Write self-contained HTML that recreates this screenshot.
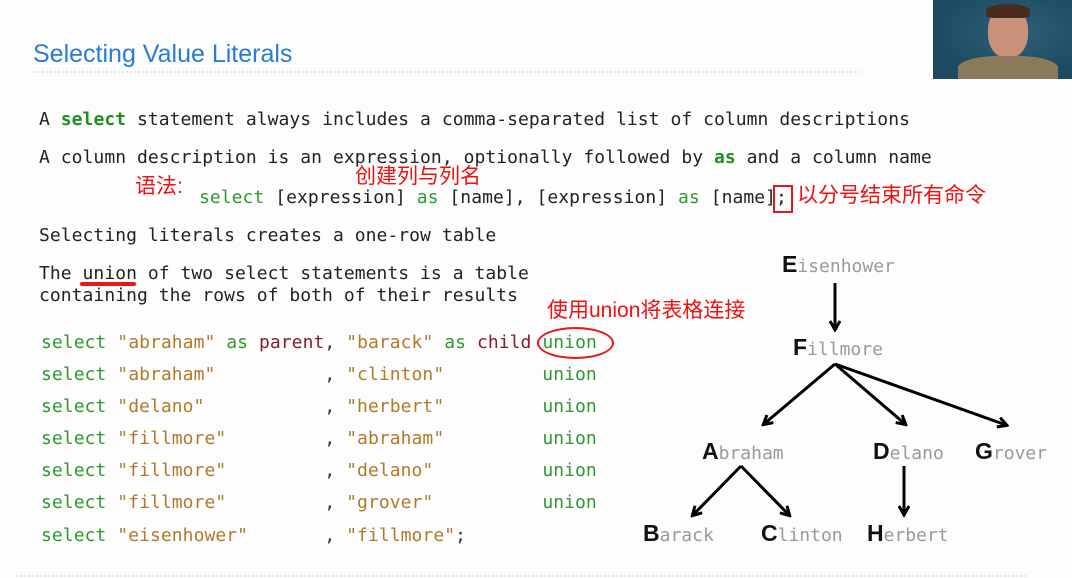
<!DOCTYPE html>
<html><head><meta charset="utf-8"><style>
body{margin:0;width:1072px;height:578px;background:#fdfdfd;position:relative;overflow:hidden;font-family:"DejaVu Sans Mono","Liberation Mono",monospace}
.a{position:absolute;white-space:pre;line-height:1}
.t{font-size:18px;color:#222;letter-spacing:0.05px}
.g{color:#2e9a2e}
.gb{color:#1f8f1f;font-weight:bold}
.s{color:#b07a2a}
.r{color:#8b1a2e}
.c{font-size:18px;color:#333;letter-spacing:0.06px}
.cn{font-family:"Liberation Sans","Noto Sans CJK SC",sans-serif;color:#f01010;font-size:21px}
.n{font-size:18px;color:#999}
.n b{font-family:"Liberation Sans",sans-serif;font-size:23px;color:#111}
</style></head><body>
<div class="a" style="left:33px;top:42px;font-family:'Liberation Sans',sans-serif;font-size:25px;color:#2a7bd6">Selecting Value Literals</div>
<div class="a" style="left:33px;top:71px;width:827px;border-top:2px dotted #e4e4e4"></div>
<div class="a" style="left:16px;top:575px;width:1010px;border-top:2px dotted #e4e4e4"></div>
<div class="a" style="left:933px;top:0;width:139px;height:79px;overflow:hidden;background:radial-gradient(ellipse at 60% 40%,#2f5f78,#1d4a60 70%)">
<div style="position:absolute;left:55px;top:6px;width:40px;height:52px;border-radius:45%;background:#c9907a"></div>
<div style="position:absolute;left:53px;top:4px;width:44px;height:14px;border-radius:50% 50% 20% 20%;background:#4a2a1e"></div>
<div style="position:absolute;left:25px;top:56px;width:100px;height:30px;border-radius:40% 40% 0 0;background:#8a7a5a"></div>
</div>

<div class="a t" style="left:39px;top:111px">A <span class="gb">select</span> statement always includes a comma-separated list of column descriptions</div>
<div class="a t" style="left:39px;top:149px">A column description is an expression, optionally followed by <span class="gb">as</span> and a column name</div>
<div class="a t" style="left:199px;top:189px"><span class="g">select</span> [expression] <span class="g">as</span> [name], [expression] <span class="g">as</span> [name]<span>;</span></div>
<div class="a t" style="left:39px;top:227px">Selecting literals creates a one-row table</div>
<div class="a t" style="left:39px;top:265px">The union of two select statements is a table</div>
<div class="a t" style="left:39px;top:287px">containing the rows of both of their results</div>

<div class="a cn" style="left:135px;top:176px">语法:</div>
<div class="a cn" style="left:355px;top:166px">创建列与列名</div>
<div class="a" style="left:773px;top:185px;width:16px;height:24px;border:2px solid #e01818"></div>
<div class="a cn" style="left:797px;top:185px">以分号结束所有命令</div>
<div class="a" style="left:80px;top:282px;width:56px;height:4px;border-radius:2px;background:#e81818"></div>
<div class="a cn" style="left:547px;top:300px">使用union将表格连接</div>
<div class="a" style="left:537px;top:327px;width:73px;height:28px;border:2px solid #e81818;border-radius:50%"></div>

<div class="a c" style="left:41px;top:334px"><span class="g">select</span> <span class="s">"abraham"</span> <span class="g">as</span> <span class="r">parent</span>, <span class="s">"barack"</span> <span class="g">as</span> <span class="r">child</span> <span class="g">union</span></div>
<div class="a c" style="left:41px;top:366px"><span class="g">select</span> <span class="s">"abraham"</span>          , <span class="s">"clinton"</span>         <span class="g">union</span></div>
<div class="a c" style="left:41px;top:398px"><span class="g">select</span> <span class="s">"delano"</span>           , <span class="s">"herbert"</span>         <span class="g">union</span></div>
<div class="a c" style="left:41px;top:430px"><span class="g">select</span> <span class="s">"fillmore"</span>         , <span class="s">"abraham"</span>         <span class="g">union</span></div>
<div class="a c" style="left:41px;top:462px"><span class="g">select</span> <span class="s">"fillmore"</span>         , <span class="s">"delano"</span>          <span class="g">union</span></div>
<div class="a c" style="left:41px;top:494px"><span class="g">select</span> <span class="s">"fillmore"</span>         , <span class="s">"grover"</span>          <span class="g">union</span></div>
<div class="a c" style="left:41px;top:527px"><span class="g">select</span> <span class="s">"eisenhower"</span>       , <span class="s">"fillmore"</span>;</div>

<div class="a n" style="left:782px;top:253px"><b>E</b>isenhower</div>
<div class="a n" style="left:793px;top:336px"><b>F</b>illmore</div>
<div class="a n" style="left:702px;top:440px"><b>A</b>braham</div>
<div class="a n" style="left:873px;top:440px"><b>D</b>elano</div>
<div class="a n" style="left:975px;top:440px"><b>G</b>rover</div>
<div class="a n" style="left:643px;top:522px"><b>B</b>arack</div>
<div class="a n" style="left:761px;top:522px"><b>C</b>linton</div>
<div class="a n" style="left:867px;top:522px"><b>H</b>erbert</div>

<svg class="a" style="left:0;top:0" width="1072" height="578">
<defs><marker id="m" markerWidth="12" markerHeight="12" refX="9" refY="6" orient="auto" markerUnits="userSpaceOnUse"><path d="M1,1 L10,6 L1,11" fill="none" stroke="#000" stroke-width="3"/></marker></defs>
<g stroke="#000" stroke-width="3" fill="none" marker-end="url(#m)">
<line x1="835" y1="283" x2="835" y2="329"/>
<line x1="835" y1="364" x2="764" y2="424"/>
<line x1="835" y1="364" x2="905" y2="424"/>
<line x1="835" y1="364" x2="1006" y2="425"/>
<line x1="741" y1="466" x2="693" y2="515"/>
<line x1="741" y1="466" x2="789" y2="515"/>
<line x1="904" y1="466" x2="904" y2="514"/>
</g></svg>
</body></html>
